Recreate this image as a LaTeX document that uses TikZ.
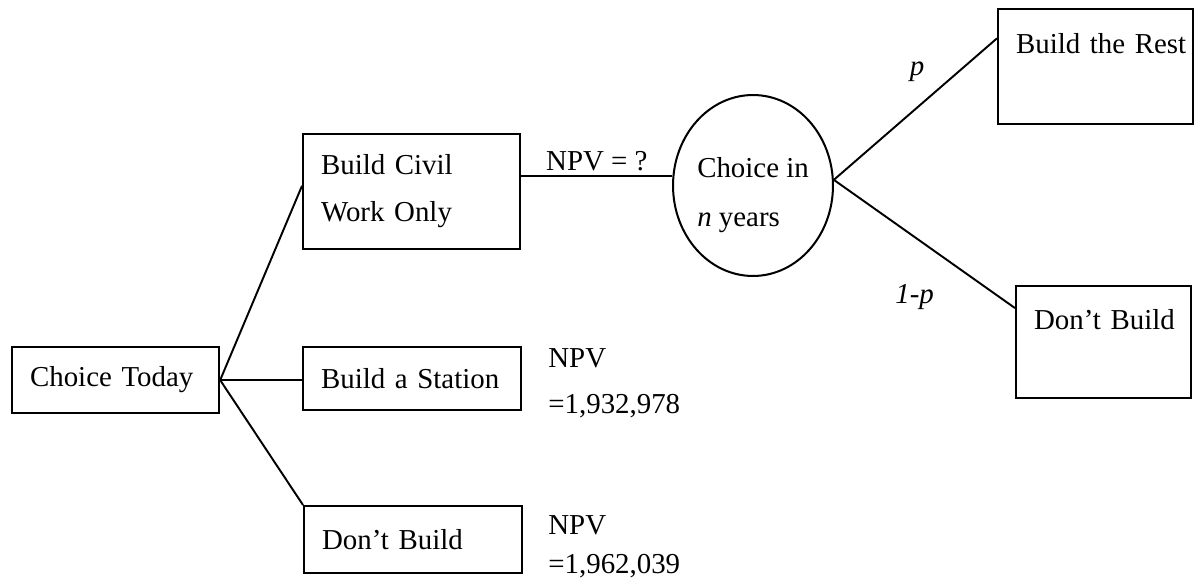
\documentclass[tikz,border=0pt]{standalone}
\usepackage{fontspec}
\setmainfont{Liberation Serif}
\usetikzlibrary{shapes.geometric}

% body text size and line spacing for the boxes
\newcommand\treefont{\fontsize{16.44pt}{26.75pt}\selectfont}

\begin{document}
\begin{tikzpicture}[x=0.02cm, y=-0.02cm,
  choicebox/.style={draw, line width=1.25pt, anchor=north west,
    inner xsep=10.24pt, inner ysep=0pt, align=left, font=\treefont},
  chancenode/.style={draw, ellipse, line width=1.15pt, inner sep=0pt,
    minimum width=91.05pt, minimum height=103pt, align=left,
    font=\fontsize{16.44pt}{27.88pt}\selectfont},
  branch/.style={line width=1.1pt},
  tag/.style={font=\treefont, inner sep=0pt}]

  \useasboundingbox (0,0) rectangle (1194,588);

  % decision boxes
  \node[choicebox, text width=97.31pt, minimum width=117.8pt, minimum height=37.56pt]
    (today) at (11,346) {Choice Today};
  \node[choicebox, text width=103pt, minimum width=123.49pt, minimum height=65.44pt]
    (civil) at (302,133) {Build Civil\\Work Only};
  \node[choicebox, text width=103.57pt, minimum width=124.05pt, minimum height=35.85pt]
    (station) at (302,346) {Build a Station};
  \node[choicebox, text width=103.57pt, minimum width=124.05pt, minimum height=38.13pt]
    (dont) at (303,505) {Don’t Build};

  % outcome boxes after the later choice
  \node[choicebox, text width=90.48pt, text height=25.04pt, text depth=40.4pt]
    (rest) at (997,8) {\makebox[\linewidth][l]{Build the Rest}};
  \node[choicebox, text width=79.1pt, text height=24.47pt, text depth=39.26pt]
    (dontR) at (1015,285) {\makebox[\linewidth][l]{Don’t Build}};

  % chance node
  \node[chancenode] (circ) at (753,185.5)
    {\rule{0pt}{22.76pt}Choice in\\\textit{n} years};

  % branches from today's choice
  \draw[branch] (today.east) -- (civil.177);
  \draw[branch] (today.east) -- (today.east -| station.west);
  \draw[branch] (today.east) -- (dont.north west);

  % civil work branch into the later choice
  \draw[branch] (circ.173 -| civil.east) -- node[tag, above=2.1pt] (npvq) {NPV = ?} (circ.173);

  % branches of the later choice
  \draw[branch] (circ.4) -- (rest.164);
  \draw[branch] (circ.4) -- (dontR.159);

  % probabilities
  \node[tag, anchor=base] (prob) at (917,76) {\textit{p}};
  \node[tag, anchor=base west] (probc) at (895,303) {\textit{1-p}};

  % values of the immediate options (base anchor sits on the last line)
  \node[tag, anchor=base west, align=left, font=\fontsize{16.44pt}{26.18pt}\selectfont]
    (npvS) at (548,413) {NPV\\=1,932,978};
  \node[tag, anchor=base west, align=left, font=\fontsize{16.44pt}{22.19pt}\selectfont]
    (npvD) at (548,573) {NPV\\=1,962,039};
\end{tikzpicture}
\end{document}
